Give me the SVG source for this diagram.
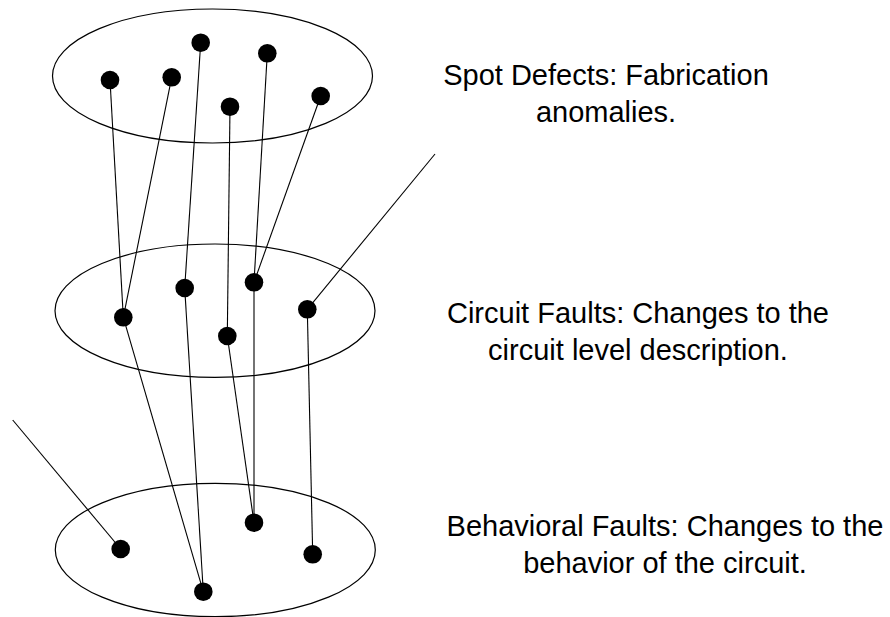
<svg xmlns="http://www.w3.org/2000/svg" width="890" height="617" viewBox="0 0 890 617">
<style>
.layer{fill:none;stroke:#000;stroke-width:1.2}
.dot{fill:#000}
.conn line{stroke:#000;stroke-width:1.1}
.lbl{font-family:"Liberation Sans",Arial,sans-serif;font-size:29px;fill:#000;text-anchor:middle}
</style>
<rect width="890" height="617" fill="#fff"/>
<g id="connectors" class="conn">
<line x1="110" y1="80" x2="123.3" y2="317.3"/>
<line x1="171.7" y1="77.3" x2="123.3" y2="317.3"/>
<line x1="200.7" y1="42.7" x2="184.7" y2="288"/>
<line x1="230" y1="106.7" x2="227.3" y2="336"/>
<line x1="267.3" y1="53.3" x2="254" y2="282.3"/>
<line x1="320.7" y1="96" x2="254" y2="282.3"/>
<line x1="123.3" y1="317.3" x2="203.3" y2="591.7"/>
<line x1="184.7" y1="288" x2="203.3" y2="591.7"/>
<line x1="254" y1="282.3" x2="254" y2="522.7"/>
<line x1="227.3" y1="336" x2="254" y2="522.7"/>
<line x1="307.3" y1="309.3" x2="312.7" y2="554.3"/>
<line x1="307.3" y1="309.3" x2="435" y2="154"/>
<line x1="120.7" y1="549" x2="12.7" y2="420"/>
</g>
<g id="spot-defects">
<ellipse class="layer" cx="212.5" cy="76" rx="160" ry="67"/>
<circle class="dot" cx="110" cy="80" r="9.3"/>
<circle class="dot" cx="171.7" cy="77.3" r="9.3"/>
<circle class="dot" cx="200.7" cy="42.7" r="9.3"/>
<circle class="dot" cx="267.3" cy="53.3" r="9.3"/>
<circle class="dot" cx="230" cy="106.7" r="9.3"/>
<circle class="dot" cx="320.7" cy="96" r="9.3"/>
<text class="lbl" x="606" y="85">Spot Defects: Fabrication</text>
<text class="lbl" x="606" y="122">anomalies.</text>
</g>
<g id="circuit-faults">
<ellipse class="layer" cx="215" cy="310.7" rx="160" ry="66.7"/>
<circle class="dot" cx="123.3" cy="317.3" r="9.3"/>
<circle class="dot" cx="184.7" cy="288" r="9.3"/>
<circle class="dot" cx="254" cy="282.3" r="9.3"/>
<circle class="dot" cx="307.3" cy="309.3" r="9.3"/>
<circle class="dot" cx="227.3" cy="336" r="9.3"/>
<text class="lbl" x="638" y="323">Circuit Faults: Changes to the</text>
<text class="lbl" x="638" y="360">circuit level description.</text>
</g>
<g id="behavioral-faults">
<ellipse class="layer" cx="215.3" cy="550" rx="160" ry="66.7"/>
<circle class="dot" cx="120.7" cy="549" r="9.3"/>
<circle class="dot" cx="254" cy="522.7" r="9.3"/>
<circle class="dot" cx="312.7" cy="554.3" r="9.3"/>
<circle class="dot" cx="203.3" cy="591.7" r="9.3"/>
<text class="lbl" x="665" y="536">Behavioral Faults: Changes to the</text>
<text class="lbl" x="665" y="573">behavior of the circuit.</text>
</g>
</svg>
